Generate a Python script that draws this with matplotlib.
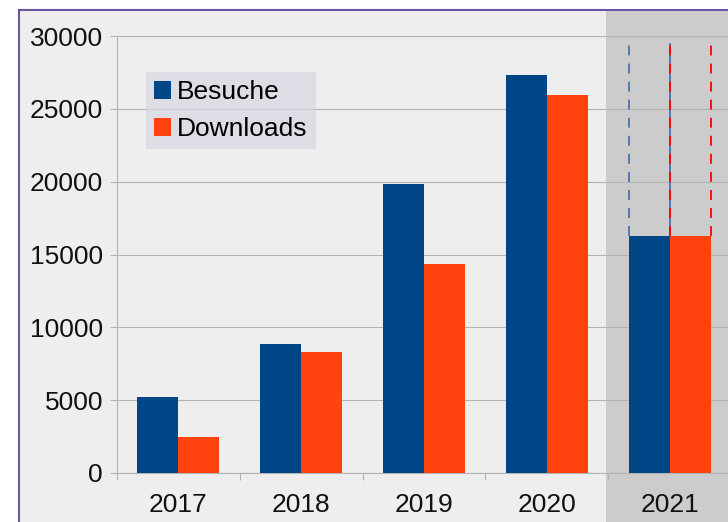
import matplotlib
matplotlib.use("Agg")
import matplotlib.pyplot as plt
from matplotlib.patches import Rectangle
from matplotlib.transforms import blended_transform_factory
import numpy as np

years = ["2017", "2018", "2019", "2020", "2021"]
besuche = [5200, 8850, 19850, 27350, 16300]
downloads = [2500, 8300, 14350, 25950, 16300]
prognose_2021 = 29450
y_ticks = [0, 5000, 10000, 15000, 20000, 25000, 30000]

plt.rcParams['font.family'] = ['Liberation Sans', 'DejaVu Sans']

W, H = 728, 522
fig = plt.figure(figsize=(W / 100, H / 100), dpi=100)
fig.patch.set_facecolor('white')

# chart background with purple frame (cropped at right/bottom)
frame = Rectangle((18.5 / W, -0.1), 1.2, 1 - 9.5 / H + 0.1, transform=fig.transFigure,
                  facecolor='#eeeeee', edgecolor='#6b55a0', linewidth=1.5, zorder=-10)
fig.patches.append(frame)

left = 117 / W
right = 731 / W
bottom = 1 - 473 / H
top = 1 - 36 / H
ax = fig.add_axes([left, bottom, right - left, top - bottom])
ax.set_facecolor('none')

x = np.arange(len(years))
bw = 41 / 122.8

# shaded last category
tr = blended_transform_factory(ax.transData, fig.transFigure)
ax.add_patch(Rectangle((3.5 - 2 / 122.8, -0.1), 2, 1 - 10.5 / H + 0.1, transform=tr,
                       facecolor='#cccccc', edgecolor='none', clip_on=False, zorder=0))

ax.bar(x - bw / 2, besuche, width=bw, color='#004586', label='Besuche', zorder=3)
ax.bar(x + bw / 2, downloads, width=bw, color='#ff420e', label='Downloads', zorder=3)

# dashed projection lines for 2021
i = len(years) - 1
ls_kw = dict(linewidth=1.3, zorder=4)
ax.plot([i - bw, i - bw], [besuche[i], prognose_2021], color='#4a72b0',
        dashes=(5.5, 4.5), **ls_kw)
ax.plot([i, i], [besuche[i], prognose_2021], color='#4a72b0', **ls_kw)
ax.plot([i, i], [downloads[i], prognose_2021], color='#ff0000', dashes=(5.5, 4.5), **ls_kw)
ax.plot([i + bw, i + bw], [downloads[i], prognose_2021], color='#ff0000',
        dashes=(5.5, 4.5), **ls_kw)

ax.set_xlim(-0.5, 4.5)
ax.set_ylim(0, 30000)
ax.set_yticks(y_ticks)
ax.set_yticklabels([str(v) for v in y_ticks])
ax.set_xticks(x)
ax.set_xticklabels(years)
ax.set_xticks(np.arange(-0.5, 4.6, 1), minor=True)

ax.yaxis.grid(True, color='#b3b3b3', linewidth=0.8, zorder=1)
ax.set_axisbelow(True)
for s in ['top', 'right']:
    ax.spines[s].set_visible(False)
for s in ['left', 'bottom']:
    ax.spines[s].set_color('#b3b3b3')
    ax.spines[s].set_linewidth(0.8)

ax.tick_params(axis='y', colors='#b3b3b3', labelcolor='#111111', labelsize=19,
               length=5, width=0.8, pad=5)
ax.tick_params(axis='x', which='major', length=0, labelcolor='#111111', labelsize=19, pad=14.5)
ax.tick_params(axis='x', which='minor', length=5, width=0.8, color='#b3b3b3')

leg = ax.legend(loc='upper left', bbox_to_anchor=(146 / W, 1 - 72 / H),
                bbox_transform=fig.transFigure, borderaxespad=0, fontsize=19,
                frameon=True, fancybox=False, handlelength=0.66, handleheight=0.66,
                handletextpad=0.22, labelspacing=0.5, borderpad=0.3)
leg.get_frame().set_facecolor('#d6d6e4')
leg.get_frame().set_alpha(0.7)
leg.get_frame().set_edgecolor('none')

fig.savefig('out.png', dpi=100)
